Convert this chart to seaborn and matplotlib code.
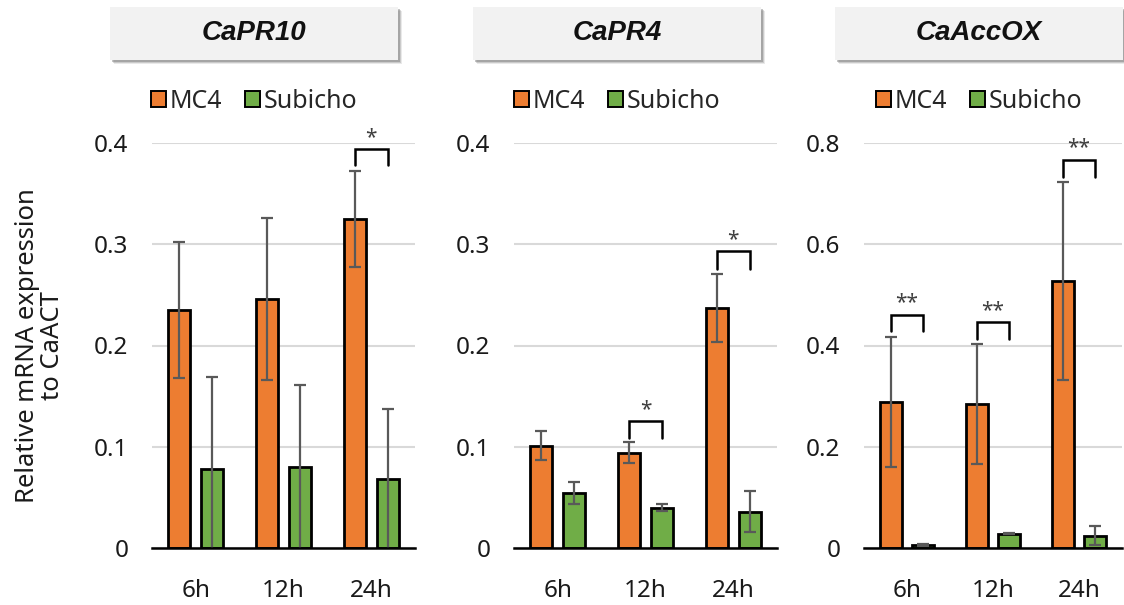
import pandas as pd
import matplotlib
matplotlib.use("Agg")
import matplotlib.pyplot as plt
import matplotlib.patches as mpatches
import seaborn as sns

# Data
times = ["6h", "12h", "24h"]
cultivars = ["MC4", "Subicho"]
genes = ["CaPR10", "CaPR4", "CaAccOX"]

pr10_mc4 = [0.235, 0.246, 0.325]
pr10_mc4_err = [0.067, 0.080, 0.047]
pr10_sub = [0.078, 0.080, 0.068]
pr10_sub_err = [0.091, 0.081, 0.069]

pr4_mc4 = [0.101, 0.094, 0.237]
pr4_mc4_err = [0.0145, 0.0105, 0.034]
pr4_sub = [0.054, 0.040, 0.036]
pr4_sub_err = [0.011, 0.003, 0.020]

acc_mc4 = [0.288, 0.284, 0.527]
acc_mc4_err = [0.128, 0.119, 0.195]
acc_sub = [0.006, 0.028, 0.024]
acc_sub_err = [0.002, 0.001, 0.019]

y_max = [0.4, 0.4, 0.8]
y_ticks = [[0, 0.1, 0.2, 0.3, 0.4], [0, 0.1, 0.2, 0.3, 0.4], [0, 0.2, 0.4, 0.6, 0.8]]
y_ticklabels = [["0", "0.1", "0.2", "0.3", "0.4"], ["0", "0.1", "0.2", "0.3", "0.4"],
                ["0", "0.2", "0.4", "0.6", "0.8"]]

# significance brackets: (time index, bracket top, leg bottom, label)
sig_pr10 = [(2, 0.394, 0.378, "*")]
sig_pr4 = [(1, 0.125, 0.109, "*"), (2, 0.293, 0.276, "*")]
sig_acc = [(0, 0.461, 0.428, "**"), (1, 0.446, 0.412, "**"), (2, 0.767, 0.733, "**")]

colors = {"MC4": "#ED7D31", "Subicho": "#70AD47"}

panels = [
    (pr10_mc4, pr10_mc4_err, pr10_sub, pr10_sub_err, sig_pr10),
    (pr4_mc4, pr4_mc4_err, pr4_sub, pr4_sub_err, sig_pr4),
    (acc_mc4, acc_mc4_err, acc_sub, acc_sub_err, sig_acc),
]

sns.set_style("white")
plt.rcParams["font.family"] = ["Noto Sans", "DejaVu Sans"]

W, H = 1124, 605
fig = plt.figure(figsize=(W / 100, H / 100), dpi=100)

# layout in pixels
ax_left = [152, 514, 864]
ax_width = [263, 263, 258]
ax_top, ax_bottom = 143, 548
box_center = [254, 617, 979]
box_w, box_top, box_h = 288, 7, 53

for i, (mc4, mc4_err, sub, sub_err, sigs) in enumerate(panels):
    ax = fig.add_axes([ax_left[i] / W, 1 - ax_bottom / H, ax_width[i] / W, (ax_bottom - ax_top) / H])
    df = pd.DataFrame({
        "time": times * 2,
        "cultivar": ["MC4"] * 3 + ["Subicho"] * 3,
        "value": mc4 + sub,
    })
    sns.barplot(data=df, x="time", y="value", hue="cultivar", order=times,
                hue_order=cultivars, palette=colors, errorbar=None,
                width=0.75, gap=1 / 3, edgecolor="black", linewidth=2.0,
                saturation=1, legend=False, ax=ax, zorder=3)

    errs = [mc4_err, sub_err]
    centers = []
    for cont, err in zip(ax.containers, errs):
        xs = [b.get_x() + b.get_width() / 2 for b in cont]
        hs = [b.get_height() for b in cont]
        centers.append(xs)
        ax.errorbar(xs, hs, yerr=err, fmt="none", ecolor="#595959", elinewidth=1.6,
                    capsize=4.2, capthick=1.6, zorder=4)

    for ti, top, leg, label in sigs:
        x0, x1 = centers[0][ti], centers[1][ti]
        ax.plot([x0, x0, x1, x1], [leg, top, top, leg], color="black", lw=1.8,
                clip_on=False, zorder=5, solid_joinstyle="miter")
        ax.annotate(label, ((x0 + x1) / 2, top), xytext=(0, 1), textcoords="offset points",
                    ha="center", va="bottom", fontsize=15, color="#404040",
                    annotation_clip=False)

    ax.set_ylim(0, y_max[i])
    ax.set_yticks(y_ticks[i])
    ax.set_yticklabels(y_ticklabels[i])
    ax.set_xlim(-0.5, 2.5)
    ax.set_xlabel("")
    ax.set_ylabel("")
    ax.grid(axis="y", color="#d9d9d9", lw=1.5, zorder=0)
    ax.set_axisbelow(True)
    for s in ["left", "right", "top"]:
        ax.spines[s].set_visible(False)
    ax.spines["bottom"].set_color("black")
    ax.spines["bottom"].set_linewidth(1.8)
    ax.spines["bottom"].set_zorder(6)
    ax.tick_params(axis="both", length=0, labelsize=17.5, colors="#1a1a1a")
    ax.tick_params(axis="y", pad=17)
    ax.tick_params(axis="x", pad=22)

    # title box with shadow
    bx = box_center[i] - box_w / 2
    by = H - box_top - box_h
    for k, a in enumerate([0.15, 0.25, 0.4]):
        off = 4 - k
        sh = mpatches.Rectangle(((bx + off) / W, (by - off) / H), box_w / W, box_h / H,
                                transform=fig.transFigure, facecolor="#6f6f6f",
                                edgecolor="none", alpha=a, zorder=1)
        fig.add_artist(sh)
    box = mpatches.Rectangle((bx / W, by / H), box_w / W, box_h / H,
                             transform=fig.transFigure, facecolor="#f2f2f2",
                             edgecolor="none", zorder=2)
    fig.add_artist(box)
    fig.text(box_center[i] / W, (by + box_h / 2) / H, genes[i], ha="center", va="center",
             fontsize=20, fontweight="bold", fontstyle="italic",
             family="Liberation Sans", color="#111111", zorder=3)

    handles = [mpatches.Patch(facecolor=colors[c], edgecolor="black", linewidth=1.4, label=c)
               for c in cultivars]
    fig.legend(handles=handles, loc="center", bbox_to_anchor=(box_center[i] / W, 1 - 101 / H),
               ncol=2, frameon=False, prop={"size": 18, "weight": "semibold"},
               handlelength=0.6, handleheight=0.6,
               handletextpad=0.15, columnspacing=0.9, borderaxespad=0)

fig.text(40 / W, 1 - (ax_top + ax_bottom) / 2 / H, "Relative mRNA expression\nto CaACT",
         rotation=90, ha="center", va="center", multialignment="center",
         fontsize=18.5, color="#1a1a1a", linespacing=1.05)

fig.savefig("out.png", dpi=100)
